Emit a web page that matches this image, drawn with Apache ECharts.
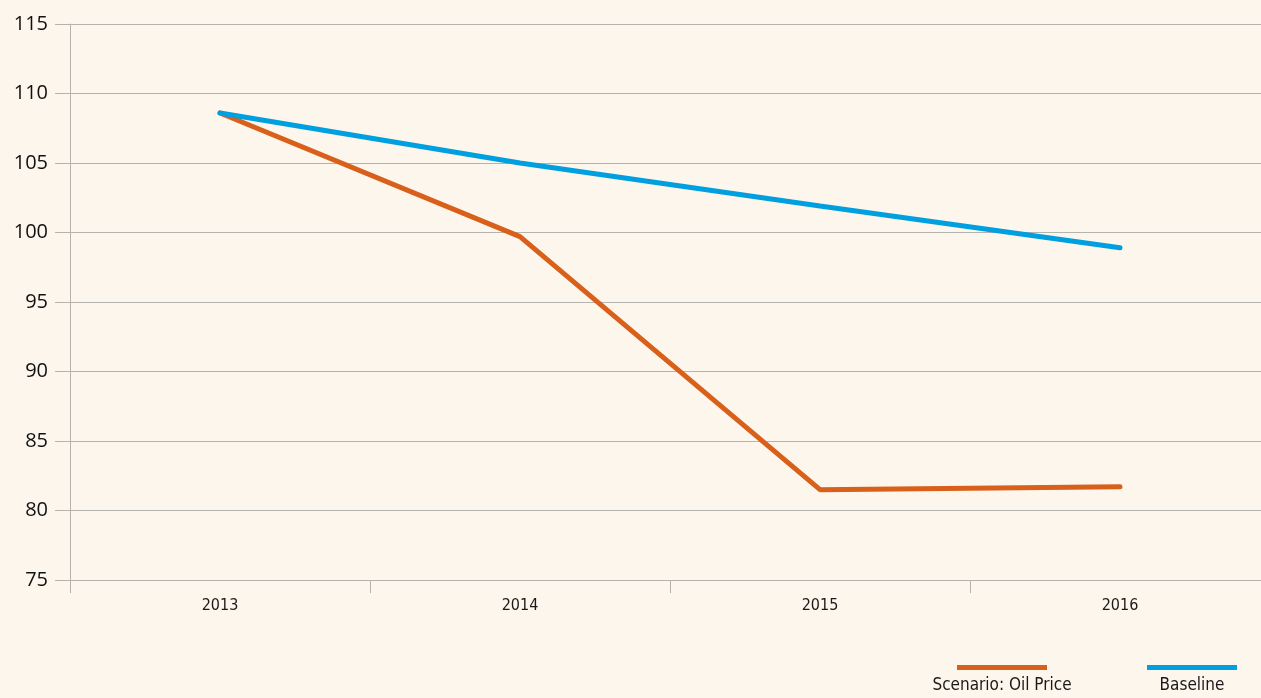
<!DOCTYPE html>
<html>
<head>
<meta charset="utf-8">
<script src="https://cdn.jsdelivr.net/npm/echarts@6/dist/echarts.min.js"></script>
<style>
  html, body { margin: 0; padding: 0; background: #fdf6ec; overflow: hidden; }
  #main { width: 1280px; height: 698px; }
</style>
</head>
<body>
<div id="main"></div>
<script>
// data
var years = ['2013', '2014', '2015', '2016'];
var oilScenario = [108.6, 99.7, 81.5, 81.7];
var baseline = [108.6, 105.0, 101.9, 98.9];
var seriesNames = ['Scenario: Oil Price', 'Baseline'];

var narrow = '"Liberation Sans Narrow", "DejaVu Sans Condensed", sans-serif';
var gridColor = '#b5b3ae';

// the plot runs a little past the right edge of the picture
var myChart = echarts.init(document.getElementById('main'));
myChart.setOption({
    backgroundColor: '#fdf6ec',
    animation: false,
    grid: { left: 70, top: 24, width: 1200, height: 556, containLabel: false },
    legend: {
        left: 952,
        top: 660,
        itemWidth: 90,
        itemHeight: 5,
        itemGap: 100,
        icon: 'rect',
        formatter: function () { return ''; },
        data: seriesNames
    },
    // legend names sit under the swatches
    graphic: [
        { type: 'text', x: 1002, y: 677,
          style: { text: seriesNames[0], font: '17px ' + narrow, fill: '#1a1a1a', textAlign: 'center' } },
        { type: 'text', x: 1192, y: 677,
          style: { text: seriesNames[1], font: '17px ' + narrow, fill: '#1a1a1a', textAlign: 'center' } }
    ],
    xAxis: {
        type: 'category',
        data: years,
        boundaryGap: true,
        axisLine: { show: false },
        axisTick: { show: true, length: 13, lineStyle: { color: gridColor } },
        axisLabel: { margin: 18, fontFamily: narrow, fontSize: 16, color: '#1a1a1a' }
    },
    yAxis: {
        type: 'value',
        min: 75,
        max: 115,
        interval: 5,
        axisLine: { show: true, lineStyle: { color: gridColor } },
        axisTick: { show: true, length: 15, lineStyle: { color: gridColor } },
        splitLine: { show: true, lineStyle: { color: gridColor } },
        axisLabel: { margin: 22, fontFamily: '"Open Sans", sans-serif', fontSize: 20, color: '#111' }
    },
    series: [
        {
            name: seriesNames[0],
            type: 'line',
            data: oilScenario,
            symbol: 'none',
            color: '#d8601a',
            lineStyle: { width: 5, cap: 'round' }
        },
        {
            name: seriesNames[1],
            type: 'line',
            data: baseline,
            symbol: 'none',
            color: '#009fdf',
            lineStyle: { width: 5, cap: 'round' }
        }
    ]
});
</script>
</body>
</html>
